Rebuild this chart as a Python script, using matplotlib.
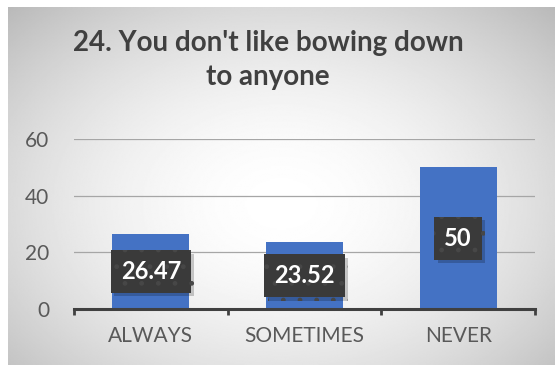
import numpy as np
import matplotlib
matplotlib.use("Agg")
import matplotlib.pyplot as plt
import matplotlib.patheffects as pe

plt.rcParams["font.family"] = ["Lato", "DejaVu Sans"]

# chart data
categories = ["ALWAYS", "SOMETIMES", "NEVER"]
values = [26.47, 23.52, 50]
value_labels = ["26.47", "23.52", "50"]
y_ticks = [0, 20, 40, 60]
title = "24. You don't like bowing down\nto anyone"

fig = plt.figure(figsize=(5.55, 3.65), dpi=100)
fig.patch.set_facecolor("white")

# radial grey gradient behind the chart (Excel style)
bg = fig.add_axes([8 / 555, 0, 1 - 8 / 555, 358 / 365])
yy, xx = np.mgrid[0:1:300j, 0:1:400j]
r = np.sqrt(((xx - 0.5) / 0.66) ** 2 + ((yy - 0.45) / 0.72) ** 2)
shade = 1.0 - 0.24 * np.clip(r, 0, 1.2) ** 1.8
bg.imshow(shade, cmap="gray", vmin=0, vmax=1, extent=[0, 1, 0, 1],
          aspect="auto", origin="lower", interpolation="bilinear")
bg.set_axis_off()

ax = fig.add_axes([74 / 555, 56 / 365, 461 / 555, 170 / 365])
ax.set_facecolor("none")

x = np.arange(len(categories))
ax.bar(x, values, width=0.5, color="#4472C4", zorder=2)

# data labels: dark dotted box with a soft shadow
for xi, v, lab in zip(x, values, value_labels):
    t = ax.text(xi, v / 2, lab, ha="center", va="center", color="white",
                fontsize=17, fontweight="bold", zorder=4,
                bbox=dict(boxstyle="square,pad=0.42", facecolor="#3a3a3a",
                          edgecolor="#474747", linewidth=0, hatch="."))
    t.get_bbox_patch().set_path_effects([
        pe.SimplePatchShadow(offset=(2.5, -2.5), shadow_rgbFace="black", alpha=0.2),
        pe.Normal(),
    ])

ax.set_xlim(-0.5, len(categories) - 0.5)
ax.set_ylim(0, 60)
ax.set_yticks(y_ticks)
ax.tick_params(axis="y", length=0, pad=18, labelsize=15, labelcolor="#595959")
ax.yaxis.grid(True, color="#a6a6a6", linewidth=0.9, zorder=1)
ax.set_axisbelow(True)

ax.set_xticks(np.arange(-0.5, len(categories)), labels=[""] * (len(categories) + 1))
ax.set_xticks(x, labels=categories, minor=True)
ax.tick_params(axis="x", which="major", direction="out", length=4,
               width=2, color="#404040")
ax.tick_params(axis="x", which="minor", length=0, pad=12, labelsize=15,
               labelcolor="#595959")

for side in ["left", "right", "top"]:
    ax.spines[side].set_visible(False)
ax.spines["bottom"].set_color("#404040")
ax.spines["bottom"].set_linewidth(2.2)

fig.text(268 / 555, 1 - 60 / 365, title, ha="center", va="center",
         fontsize=20, fontweight="bold", color="#404040", linespacing=1.35)

fig.savefig("out.png", dpi=100)
